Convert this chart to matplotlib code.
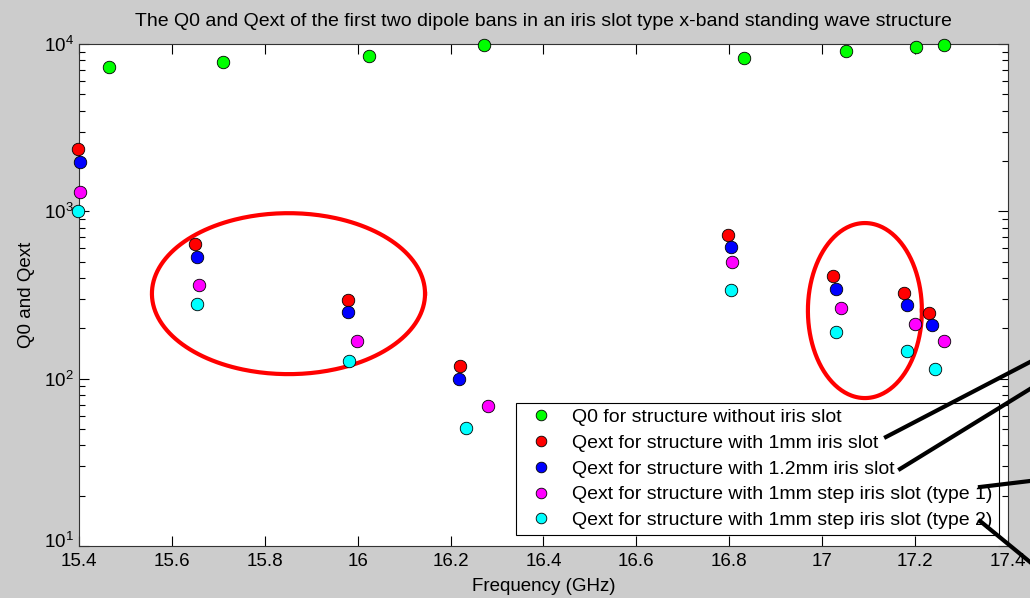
import numpy as np
import matplotlib
matplotlib.use('Agg')
from matplotlib import pyplot as plt
from matplotlib.lines import Line2D
from matplotlib.transforms import ScaledTranslation

plt.rcParams['font.family'] = ['Liberation Sans', 'DejaVu Sans']

#_____________________________DATA_______________________________________#
# frequency (GHz) and Q values
f_q0 = [15.465, 15.71, 16.024, 16.272, 16.832, 17.051, 17.202, 17.262]
q0 = [7290, 7800, 8480, 9860, 8250, 9080, 9600, 9860]

f_red = [15.398, 15.65, 15.979, 16.22, 16.797, 17.023, 17.176, 17.23]
q_red = [2355, 638, 295, 119, 721, 410, 325, 247]

f_blue = [15.402, 15.654, 15.979, 16.218, 16.804, 17.03, 17.183, 17.236]
q_blue = [1973, 533, 250, 99.5, 612, 344, 275, 209]

f_mag = [15.402, 15.658, 15.998, 16.281, 16.806, 17.04, 17.2, 17.262]
q_mag = [1303, 362, 168, 68.6, 498, 264, 212, 168]

f_cyan = [15.398, 15.654, 15.981, 16.233, 16.804, 17.03, 17.183, 17.243]
q_cyan = [1004, 279, 127, 50.7, 339, 190, 146, 114]

labels = ['Q0 for structure without iris slot',
          'Qext for structure with 1mm iris slot',
          'Qext for structure with 1.2mm iris slot',
          'Qext for structure with 1mm step iris slot (type 1)',
          'Qext for structure with 1mm step iris slot (type 2)']
colors = ['#00ff00', '#ff0000', '#0000ff', '#ff00ff', '#00ffff']

# ellipses: centre freq, centre log10(Q), half width (GHz), half height (decades)
ellipses = [(15.851, 2.508, 0.294, 0.481),
            (17.092, 2.407, 0.1227, 0.523)]

#_____________________________PLOT_______________________________________#
fig = plt.figure(figsize=(10.30, 5.98), dpi=100, facecolor='#cccccc')
ax = fig.add_axes([0.0767, 0.087, 0.9019, 0.8394])

series = [(f_q0, q0), (f_red, q_red), (f_blue, q_blue), (f_mag, q_mag), (f_cyan, q_cyan)]
for (f, q), c, lab in zip(series, colors, labels):
    ax.plot(f, q, 'o', color=c, markeredgecolor='black', markeredgewidth=0.6,
            markersize=9, label=lab, clip_on=False, zorder=3)

t = np.linspace(0, 2 * np.pi, 300)
for cx, cy, a, b in ellipses:
    ax.plot(cx + a * np.cos(t), 10 ** (cy + b * np.sin(t)), color='red', lw=3, zorder=2)

ax.set_yscale('log')
ax.set_xlim(15.4, 17.4)
ax.set_ylim(10, 1e4)
ax.set_xticks(np.arange(15.4, 17.41, 0.2))
ax.set_xticklabels(['15.4', '15.6', '15.8', '16', '16.2', '16.4', '16.6', '16.8', '17', '17.2', '17.4'])
ax.tick_params(which='both', direction='in', top=True, right=True, labelsize=13.5, width=0.8)
ax.tick_params(which='major', length=7)
ax.tick_params(which='minor', length=4)
ax.tick_params(axis='x', pad=5)
ax.tick_params(axis='y', pad=4)
for s in ax.spines.values():
    s.set_linewidth(0.8)
    s.set_color('#333333')

# nudge the bottom y label (10^1) up a little so it clears 15.4
fig.canvas.draw()
lab0 = ax.get_yticklabels()[0]
for lab in ax.get_yticklabels():
    if lab.get_position()[1] == 10:
        lab.set_transform(lab.get_transform() + ScaledTranslation(0, 4 / 72, fig.dpi_scale_trans))

ax.set_xlabel('Frequency (GHz)', fontsize=13.5, labelpad=6)
ax.set_ylabel('Q0 and Qext', fontsize=13.5, labelpad=6)
ax.set_title('The Q0 and Qext of the first two dipole bans in an iris slot type x-band standing wave structure',
             fontsize=14, pad=13)

leg = ax.legend(loc='lower right', bbox_to_anchor=(0.990, 0.022), fontsize=14, markerscale=0.85,
                fancybox=False, framealpha=1, edgecolor='black', borderpad=0.3, labelspacing=0.42,
                handletextpad=0.6, borderaxespad=0)
leg.get_frame().set_linewidth(0.8)
leg.set_zorder(4)

# black pointer lines running off the right edge (figure pixels)
W, H = 1030, 598
pointers = [((886, 437), (1030, 362)),
            ((900, 469), (1030, 389)),
            ((980, 487), (1030, 481)),
            ((980, 521), (1030, 562))]
for (x0, y0), (x1, y1) in pointers:
    fig.add_artist(Line2D([x0 / W, x1 / W], [1 - y0 / H, 1 - y1 / H], color='black', lw=3, zorder=10))

fig.savefig('out.png', dpi=100, facecolor=fig.get_facecolor())
